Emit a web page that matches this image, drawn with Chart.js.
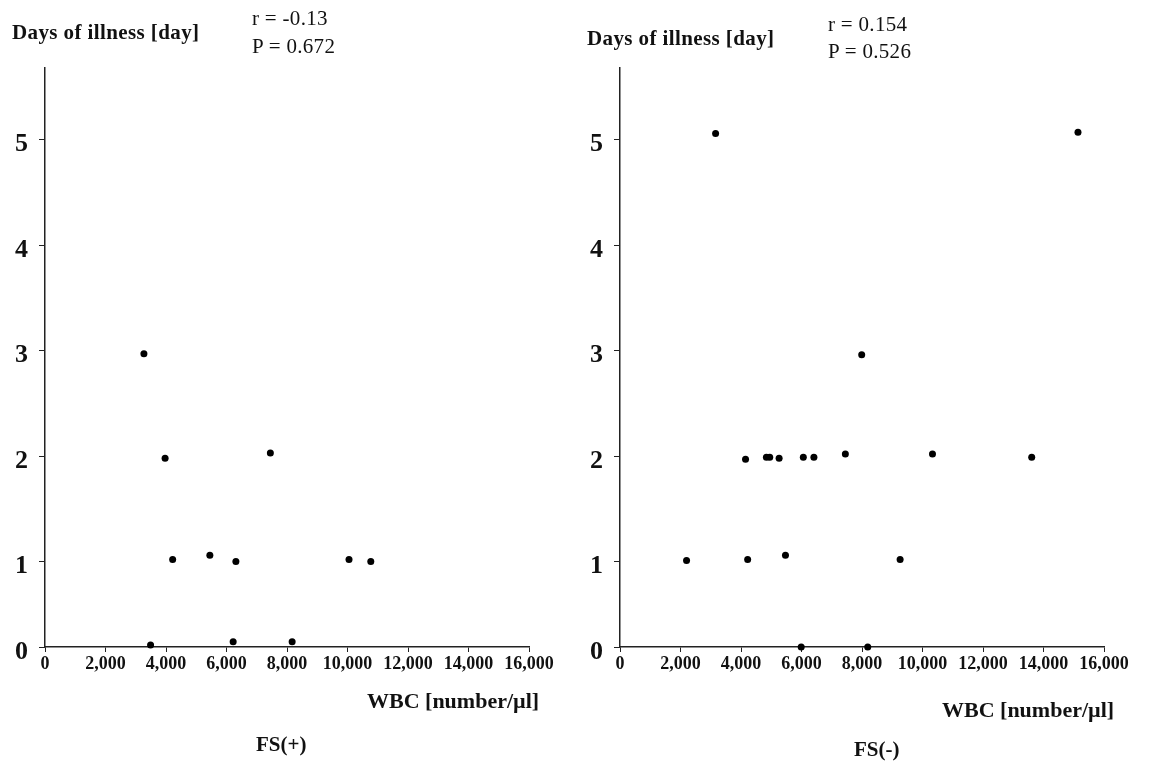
<!DOCTYPE html>
<html>
<head>
<meta charset="utf-8">
<title>WBC vs days of illness</title>
<script src="https://cdn.jsdelivr.net/npm/chart.js@4.4.1/dist/chart.umd.min.js"></script>
<style>
  body { margin: 0; background: #fff; width: 1153px; height: 766px; position: relative; overflow: hidden;
         font-family: "Liberation Serif", "Times New Roman", serif; color: #111; }
  canvas { position: absolute; top: 0; }
  .t { position: absolute; line-height: 1; white-space: nowrap; }
  .b { font-weight: bold; }
</style>
</head>
<body>
<canvas id="chartPos" width="576" height="766" style="left:0"></canvas>
<canvas id="chartNeg" width="577" height="766" style="left:576px"></canvas>

<div class="t b" style="left:12px;top:22px;font-size:21px;letter-spacing:.4px">Days of illness [day]</div>
<div class="t" style="left:252px;top:8px;font-size:21px;letter-spacing:.3px">r = -0.13</div>
<div class="t" style="left:252px;top:36px;font-size:21px;letter-spacing:.3px">P = 0.672</div>
<div class="t b" style="left:367px;top:690px;font-size:22px">WBC [number/µl]</div>
<div class="t b" style="left:256px;top:734px;font-size:21px">FS(+)</div>

<div class="t b" style="left:587px;top:28px;font-size:21px;letter-spacing:.4px">Days of illness [day]</div>
<div class="t" style="left:828px;top:14px;font-size:21px;letter-spacing:.3px">r = 0.154</div>
<div class="t" style="left:828px;top:41px;font-size:21px;letter-spacing:.3px">P = 0.526</div>
<div class="t b" style="left:942px;top:699px;font-size:22px">WBC [number/µl]</div>
<div class="t b" style="left:854px;top:739px;font-size:21px">FS(-)</div>

<script>
// FS(+) group
const wbcFsPos = [3270, 3970, 7450, 4220, 5450, 6310, 10050, 10770, 3490, 6220, 8170];
const daysFsPos = [2.97, 1.98, 2.03, 1.02, 1.06, 1.0, 1.02, 1.0, 0.21, 0.24, 0.24];

// FS(-) group
const wbcFsNeg = [3160, 15140, 7990, 2200, 4220, 5470, 9260, 4150, 4840, 4950, 5260, 6060, 6410, 7450, 10330, 13610, 5990, 8190];
const daysFsNeg = [5.06, 5.07, 2.96, 1.01, 1.02, 1.06, 1.02, 1.97, 1.99, 1.99, 1.98, 1.99, 1.99, 2.02, 2.02, 1.99, 0.19, 0.19];

// axis ticks (the "0" sits where the x axis crosses)
const yTickValues = [0.19, 1, 2, 3, 4, 5];
const yTickLabels = ["0", "1", "2", "3", "4", "5"];
const xStep = 2000;

const withComma = (v) => String(v).replace(/\B(?=(\d{3})+(?!\d))/g, ",");

const makeChart = (id, wbc, days, axisWidth, padRight) => {
  const points = wbc.map((w, i) => ({ x: w, y: days[i] }));
  return new Chart(document.getElementById(id), {
    type: "scatter",
    data: {
      datasets: [{
        data: points,
        backgroundColor: "#000",
        borderColor: "#000",
        borderWidth: 0,
        pointRadius: 3.5,
        clip: false,
      }],
    },
    options: {
      responsive: false,
      animation: false,
      layout: { padding: { top: 68, right: padRight, left: 0, bottom: 0 } },
      plugins: { legend: { display: false }, tooltip: { enabled: false } },
      scales: {
        x: {
          type: "linear",
          min: 0,
          max: 16000,
          border: { color: "#222", width: 1.5 },
          grid: { drawOnChartArea: false, tickLength: 5, color: "#222", lineWidth: 1 },
          ticks: {
            stepSize: xStep,
            autoSkip: false,
            maxRotation: 0,
            padding: 2,
            color: "#111",
            font: { family: "Liberation Serif", size: 18, weight: "bold" },
            callback: (v) => withComma(v),
          },
          afterFit: (s) => { s.height = 119; },
        },
        y: {
          type: "linear",
          min: 0.19,
          max: 5.68,
          border: { color: "#222", width: 1.5 },
          grid: { drawOnChartArea: false, tickLength: 6, color: "#222", lineWidth: 1 },
          ticks: {
            padding: 11,
            labelOffset: 5,
            color: "#111",
            font: { family: "Liberation Serif", size: 26, weight: "bold" },
            callback: (v, i) => yTickLabels[i],
          },
          afterBuildTicks: (s) => { s.ticks = yTickValues.map((v) => ({ value: v })); },
          afterFit: (s) => { s.width = axisWidth; },
        },
      },
    },
  });
};

makeChart("chartPos", wbcFsPos, daysFsPos, 45, 47);
makeChart("chartNeg", wbcFsNeg, daysFsNeg, 44, 49);
</script>
</body>
</html>
